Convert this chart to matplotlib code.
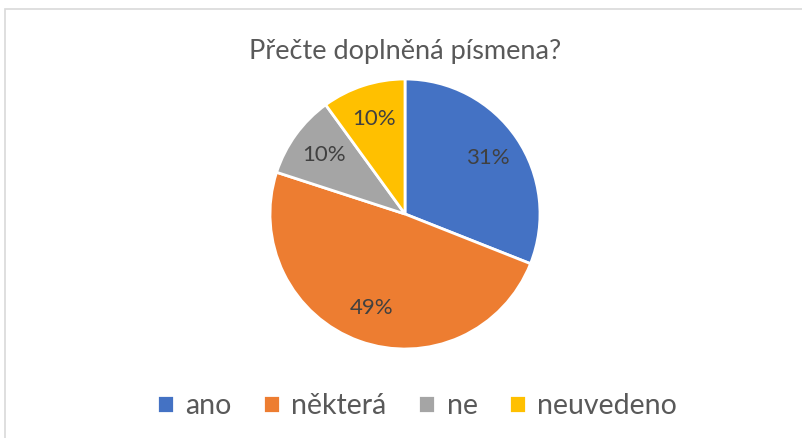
"""Pie chart: Přečte doplněná písmena?"""

import matplotlib
matplotlib.use('Agg')
import matplotlib.pyplot as plt
from matplotlib.patches import Rectangle

title = 'Přečte doplněná písmena?'
labels = ['ano', 'některá', 'ne', 'neuvedeno']
values = [31, 49, 10, 10]
colors = ['#4472C4', '#ED7D31', '#A5A5A5', '#FFC000']
text_color = '#595959'


def main():
    """Main function"""
    plt.rcParams['font.family'] = ['Lato', 'DejaVu Sans']
    W, H = 802, 438
    fig = plt.figure(figsize=(W / 100, H / 100), dpi=100)

    # chart area border
    fig.patches.append(Rectangle((5 / W, -0.01), (W - 4) / W, (H - 9) / H + 0.01,
                                 transform=fig.transFigure, fill=False,
                                 edgecolor='#D9D9D9', linewidth=1.2))

    cx, cy, r = 405, 214, 135
    ax = fig.add_axes([(cx - r) / W, (H - cy - r) / H, 2 * r / W, 2 * r / H])
    wedges, _, autotexts = ax.pie(
        values, colors=colors, startangle=90, counterclock=False,
        autopct='%1.0f%%', pctdistance=0.74,
        wedgeprops={'edgecolor': 'white', 'linewidth': 2},
        textprops={'color': '#404040', 'fontsize': 16})
    ax.set_xlim(-1, 1)
    ax.set_ylim(-1, 1)
    ax.set_aspect('equal')

    fig.text(cx / W, 1 - 51 / H, title, ha='center', va='center',
             fontsize=19.5, color=text_color)

    fig.legend(wedges, labels, loc='center', bbox_to_anchor=(417 / W, 1 - 406 / H),
               ncol=4, frameon=False, fontsize=20.5, handlelength=0.6,
               handleheight=0.6, handletextpad=0.4, columnspacing=1.1,
               labelcolor=text_color)

    fig.savefig('out.png', dpi=100)


if __name__ == "__main__":
    main()
